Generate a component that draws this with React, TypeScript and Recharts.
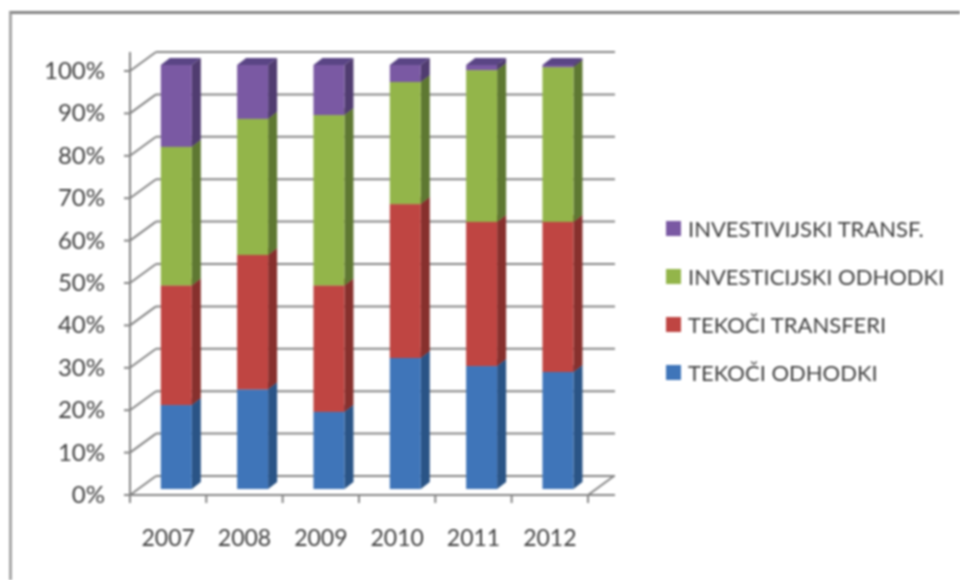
import { Bar, BarChart, Legend, XAxis, YAxis } from "recharts";

const years = ["2007", "2008", "2009", "2010", "2011", "2012"];
const tekociOdhodki = [19.8, 23.5, 18.2, 30.9, 29, 27.6];
const tekociTransferi = [28.2, 31.7, 29.8, 36.3, 34, 35.4];
const investicijskiOdhodki = [32.7, 32.1, 40.2, 28.8, 35.8, 36.5];
const investivijskiTransf = [19.3, 12.7, 11.8, 4, 1.2, 0.5];
const percentTicks = [0, 10, 20, 30, 40, 50, 60, 70, 80, 90, 100];

const data = years.map((year, i) => ({
  year,
  odhodki: tekociOdhodki[i],
  transferi: tekociTransferi[i],
  invOdhodki: investicijskiOdhodki[i],
  invTransf: investivijskiTransf[i],
}));

const FONT = "Lato, 'Open Sans', sans-serif";
const GRID = "#858585";
const TEXT = "#3f3f3f";
const MARGIN = { top: 52, right: 345, bottom: 55, left: 70 };

// depth of the fake 3D box
const DX = 9;
const DY = 7;
// depth of the walls
const WALL_X = 26;
const WALL_Y = 19;
const WALL_RIGHT = 615;

function Box3D(props: any) {
  const { x, y, width, height, fill, side, top } = props;
  if (!height || height <= 0) return null;
  const r = x + width;
  const b = y + height;
  return (
    <g>
      <polygon
        points={`${x},${y} ${x + DX},${y - DY} ${r + DX},${y - DY} ${r},${y}`}
        fill={top}
      />
      <polygon
        points={`${r},${y} ${r + DX},${y - DY} ${r + DX},${b - DY} ${r},${b}`}
        fill={side}
      />
      <rect x={x} y={y} width={width} height={height} fill={fill} />
    </g>
  );
}

function PercentTick(props: any) {
  const { x, y, payload } = props;
  return (
    <g>
      <line x1={x - 6} y1={y} x2={x} y2={y} stroke={GRID} strokeWidth={2} />
      <line x1={x} y1={y} x2={x + WALL_X} y2={y - WALL_Y} stroke={GRID} strokeWidth={2} />
      <line
        x1={x + WALL_X}
        y1={y - WALL_Y}
        x2={WALL_RIGHT}
        y2={y - WALL_Y}
        stroke={GRID}
        strokeWidth={2}
      />
      <text x={x - 25} y={y + 8} textAnchor="end" fontSize={24} fill={TEXT} fontFamily={FONT}>
        {payload.value}%
      </text>
    </g>
  );
}

function YearTick(props: any) {
  const { x, y, payload, index } = props;
  const band = 76.4;
  const last = index === years.length - 1;
  return (
    <g>
      <line x1={x - band / 2} y1={y} x2={x - band / 2} y2={y + 8} stroke={GRID} strokeWidth={2} />
      {last && (
        <>
          <line x1={x + band / 2} y1={y} x2={x + band / 2} y2={y + 8} stroke={GRID} strokeWidth={2} />
          <line
            x1={x + band / 2}
            y1={y}
            x2={x + band / 2 + WALL_X}
            y2={y - WALL_Y}
            stroke={GRID}
            strokeWidth={2}
          />
        </>
      )}
      <text x={x} y={y + 51} textAnchor="middle" fontSize={23} fill={TEXT} fontFamily={FONT}>
        {payload.value}
      </text>
    </g>
  );
}

function LegendBox({ payload }: any) {
  const rows = [...(payload ?? [])].reverse();
  return (
    <div style={{ fontFamily: FONT, fontSize: 22, color: TEXT }}>
      {rows.map((row: any) => (
        <div
          key={row.value}
          style={{ display: "flex", alignItems: "center", height: 48, whiteSpace: "nowrap" }}
        >
          <span
            style={{ width: 15, height: 15, background: row.color, marginRight: 7, flex: "none" }}
          />
          {row.value}
        </div>
      ))}
    </div>
  );
}

export default function App() {
  return (
    <div
      style={{
        position: "absolute",
        left: 0,
        top: 0,
        width: 960,
        height: 580,
        background: "#fff",
        overflow: "hidden",
        filter: "blur(0.8px)",
      }}
    >
      <div
        style={{
          position: "absolute",
          left: 9,
          top: 11,
          width: 980,
          height: 600,
          borderTop: "3px solid #858585",
          borderLeft: "3px solid #a6a6a6",
          boxSizing: "border-box",
        }}
      />
      {/* walls, floor and labels go in a chart of their own, under the bars */}
      <div style={{ position: "absolute", left: 0, top: 0 }}>
        <BarChart width={960} height={580} data={data} margin={MARGIN}>
          <XAxis
            dataKey="year"
            padding={{ left: 0, right: 27 }}
            tickLine={false}
            tickSize={0}
            tickMargin={0}
            axisLine={{ stroke: GRID, strokeWidth: 2 }}
            tick={<YearTick />}
            interval={0}
          />
          <YAxis
            domain={[0, 104.48]}
            ticks={percentTicks}
            width={60}
            tickLine={false}
            tickSize={0}
            tickMargin={0}
            axisLine={{ stroke: GRID, strokeWidth: 2 }}
            tick={<PercentTick />}
            interval={0}
            allowDataOverflow
          />
        </BarChart>
      </div>
      <div style={{ position: "absolute", left: 0, top: 0 }}>
        <BarChart
          width={960}
          height={580}
          data={data}
          barCategoryGap={0}
          margin={{ ...MARGIN, left: 130, bottom: 85 }}
        >
          {/* bars sit a little inside the box */}
          <XAxis dataKey="year" hide padding={{ left: 7.8, right: 19.2 }} />
          <YAxis hide domain={[-1.415, 103.07]} allowDataOverflow />
          <Bar
            dataKey="odhodki"
            name="TEKOČI ODHODKI"
            stackId="a"
            barSize={31}
            fill="#3f75b9"
            isAnimationActive={false}
            shape={<Box3D side="#2a5486" top="#3b659a" />}
          />
          <Bar
            dataKey="transferi"
            name="TEKOČI TRANSFERI"
            stackId="a"
            barSize={31}
            fill="#bf4542"
            isAnimationActive={false}
            shape={<Box3D side="#87302d" top="#a33d3a" />}
          />
          <Bar
            dataKey="invOdhodki"
            name="INVESTICIJSKI ODHODKI"
            stackId="a"
            barSize={31}
            fill="#93b54a"
            isAnimationActive={false}
            shape={<Box3D side="#5e7832" top="#7b9a42" />}
          />
          <Bar
            dataKey="invTransf"
            name="INVESTIVIJSKI TRANSF."
            stackId="a"
            barSize={31}
            fill="#7a59a3"
            isAnimationActive={false}
            shape={<Box3D side="#503c70" top="#5a4585" />}
          />
          <Legend
            layout="vertical"
            align="center"
            verticalAlign="middle"
            itemSorter={null}
            wrapperStyle={{ left: 666, top: 204, width: 294 }}
            content={<LegendBox />}
          />
        </BarChart>
      </div>
    </div>
  );
}
